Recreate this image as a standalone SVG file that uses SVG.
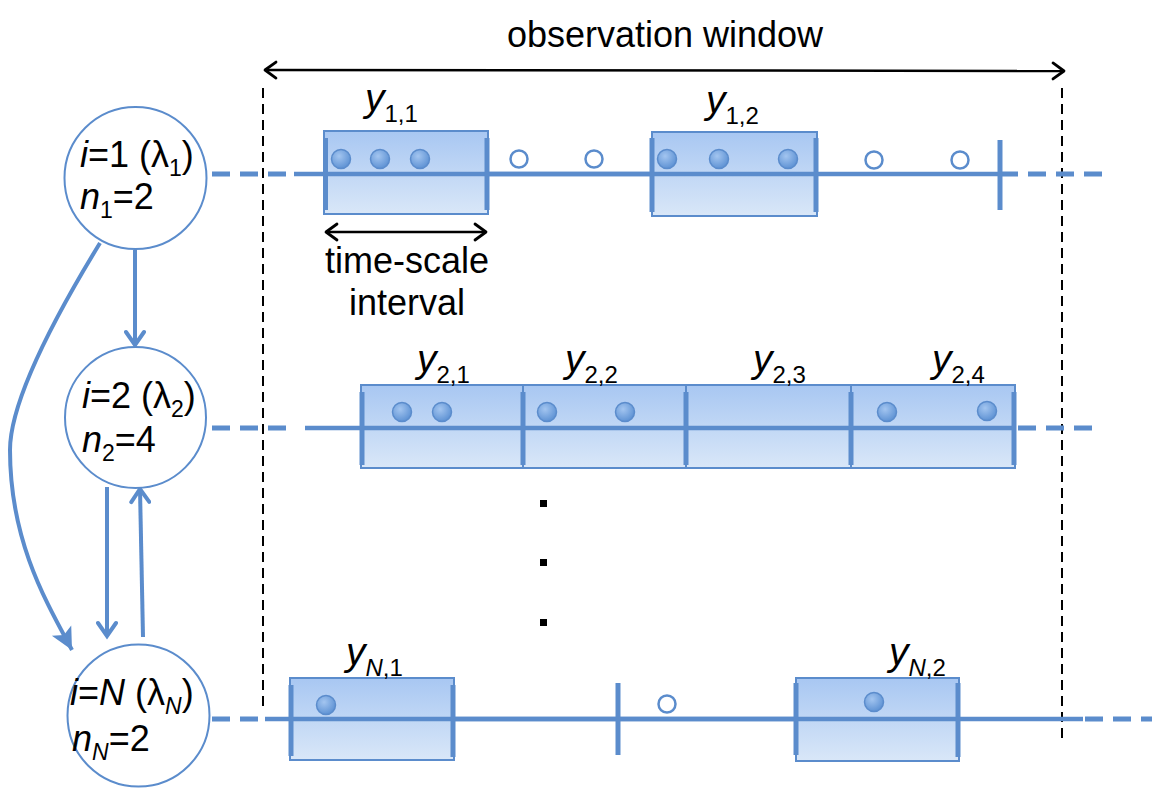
<svg xmlns="http://www.w3.org/2000/svg" width="1159" height="788" viewBox="0 0 1159 788">
<defs>
<style>
text{font-family:"Liberation Sans",Arial,Helvetica,sans-serif;fill:#000}
.lbl{font-size:36px}
.ylbl{font-size:39px}
.sub{font-size:23px}
.ys{font-size:24px}
.it{font-style:italic}
.node{fill:#fff;stroke:#5b8ccc;stroke-width:2}
.row{stroke:#5b8ccc;stroke-width:4.5;fill:none}
.dash{stroke:#5b8ccc;stroke-width:5;fill:none;stroke-dasharray:18 10}
.box{fill:url(#boxg);stroke:#5b8ccc;stroke-width:2}
.bar{stroke:#5b8ccc;stroke-width:5;fill:none}
.dot{fill:url(#dotg);stroke:#5b8ccc;stroke-width:1.5}
.open{fill:#fff;stroke:#5b8ccc;stroke-width:2.5}
.obs{stroke:#000;stroke-width:2;stroke-dasharray:10 6;fill:none}
.barrow{stroke:#000;stroke-width:2.5;fill:none}
.conn{stroke:#5b8ccc;stroke-width:4;fill:none}
</style>
<linearGradient id="boxg" x1="0" y1="0" x2="0" y2="1">
<stop offset="0" stop-color="#a8c7f2"/>
<stop offset="1" stop-color="#d9e7f8"/>
</linearGradient>
<radialGradient id="dotg" cx="0.4" cy="0.35" r="0.7">
<stop offset="0" stop-color="#a3c5f0"/>
<stop offset="1" stop-color="#5a8fd2"/>
</radialGradient>
<marker id="bhead" markerUnits="userSpaceOnUse" viewBox="0 0 20 20" markerWidth="20" markerHeight="20" refX="17" refY="10" orient="auto-start-reverse">
<path d="M6,2 L17,10 L6,18" fill="none" stroke="#000" stroke-width="2.8" stroke-linecap="round" stroke-linejoin="round"/>
</marker>
<marker id="chev" markerUnits="userSpaceOnUse" viewBox="0 0 22 22" markerWidth="22" markerHeight="22" refX="18" refY="11" orient="auto">
<path d="M5,2 L18,11 L5,20" fill="none" stroke="#5b8ccc" stroke-width="4" stroke-linecap="round" stroke-linejoin="miter"/>
</marker>
<marker id="tri" markerUnits="userSpaceOnUse" viewBox="0 0 28 28" markerWidth="28" markerHeight="28" refX="24" refY="14" orient="auto">
<path d="M2,3 L24,14 L2,25 L7,14 Z" fill="#5b8ccc"/>
</marker>
</defs>
<rect width="1159" height="788" fill="#fff"/>

<g id="observation-window">
<text class="lbl" x="665" y="47" text-anchor="middle" font-size="37">observation window</text>
<line class="barrow" x1="265" y1="70" x2="1064" y2="71" marker-start="url(#bhead)" marker-end="url(#bhead)"/>
<line class="obs" x1="263" y1="88" x2="263" y2="708"/>
<line class="obs" x1="1062" y1="88" x2="1062" y2="738"/>
</g>

<g id="row1">
<line class="dash" x1="212" y1="174" x2="290" y2="174"/>
<line class="row" x1="294" y1="174" x2="1000" y2="174"/>
<line class="dash" x1="1000" y1="174" x2="1104" y2="174" stroke-dasharray="17 11"/>
<line class="bar" x1="1000" y1="140" x2="1000" y2="210"/>
<rect class="box" x="324" y="131" width="164" height="83"/>
<rect class="box" x="652" y="132" width="165" height="84"/>
<line class="row" x1="324" y1="174" x2="817" y2="174" stroke-width="4"/>
<line class="bar" x1="325.5" y1="138" x2="325.5" y2="210"/>
<line class="bar" x1="487" y1="138" x2="487" y2="210"/>
<line class="bar" x1="652" y1="138" x2="652" y2="212"/>
<line class="bar" x1="816" y1="138" x2="816" y2="212"/>
<circle class="dot" cx="341" cy="159" r="9.5"/>
<circle class="dot" cx="380" cy="159" r="9.5"/>
<circle class="dot" cx="420" cy="159" r="9.5"/>
<circle class="open" cx="519" cy="159" r="8.5"/>
<circle class="open" cx="594" cy="159" r="8.5"/>
<circle class="dot" cx="667" cy="159" r="9.5"/>
<circle class="dot" cx="719" cy="159" r="9.5"/>
<circle class="dot" cx="788" cy="159" r="9.5"/>
<circle class="open" cx="874" cy="160" r="8.5"/>
<circle class="open" cx="960" cy="160" r="8.5"/>
<text class="ylbl" x="365" y="111"><tspan class="it">y</tspan><tspan class="ys" dy="11">1,1</tspan></text>
<text class="ylbl" x="706" y="113"><tspan class="it">y</tspan><tspan class="ys" dy="11">1,2</tspan></text>
<line class="barrow" x1="326" y1="232" x2="486" y2="232" marker-start="url(#bhead)" marker-end="url(#bhead)"/>
<text class="lbl" x="407" y="273" text-anchor="middle" font-size="37">time-scale</text>
<text class="lbl" x="407" y="315" text-anchor="middle" font-size="37">interval</text>
</g>

<g id="row2">
<line class="dash" x1="212" y1="428" x2="290" y2="428"/>
<line class="row" x1="305" y1="428" x2="1016" y2="428"/>
<line class="dash" x1="1018" y1="428" x2="1100" y2="428" stroke-dasharray="18 12"/>
<rect class="box" x="361" y="385" width="162" height="83"/>
<rect class="box" x="523" y="385" width="163" height="83"/>
<rect class="box" x="686" y="385" width="165" height="83"/>
<rect class="box" x="851" y="385" width="164" height="83"/>
<line class="row" x1="361" y1="428" x2="1015" y2="428" stroke-width="4"/>
<line class="bar" x1="362" y1="392" x2="362" y2="465"/>
<line class="bar" x1="523" y1="392" x2="523" y2="465"/>
<line class="bar" x1="686" y1="392" x2="686" y2="465"/>
<line class="bar" x1="851" y1="392" x2="851" y2="465"/>
<line class="bar" x1="1014" y1="392" x2="1014" y2="465"/>
<circle class="dot" cx="402" cy="412" r="9.5"/>
<circle class="dot" cx="442" cy="412" r="9.5"/>
<circle class="dot" cx="547" cy="412" r="9.5"/>
<circle class="dot" cx="625" cy="412" r="9.5"/>
<circle class="dot" cx="887" cy="412" r="9.5"/>
<circle class="dot" cx="987" cy="411" r="9.5"/>
<text class="ylbl" x="417" y="372"><tspan class="it">y</tspan><tspan class="ys" dy="11">2,1</tspan></text>
<text class="ylbl" x="565" y="372"><tspan class="it">y</tspan><tspan class="ys" dy="11">2,2</tspan></text>
<text class="ylbl" x="753" y="372"><tspan class="it">y</tspan><tspan class="ys" dy="11">2,3</tspan></text>
<text class="ylbl" x="932" y="372"><tspan class="it">y</tspan><tspan class="ys" dy="11">2,4</tspan></text>
</g>

<g id="ellipsis" fill="#000">
<rect x="540" y="500" width="7" height="7"/>
<rect x="540" y="559" width="7" height="7"/>
<rect x="540" y="619" width="7" height="7"/>
</g>

<g id="rowN">
<line class="dash" x1="212" y1="719" x2="262" y2="719"/>
<line class="row" x1="265" y1="719" x2="1083" y2="719"/>
<line class="dash" x1="1085" y1="719" x2="1152" y2="719" stroke-dasharray="16 13"/>
<line class="bar" x1="618" y1="683" x2="618" y2="755"/>
<rect class="box" x="290" y="678" width="164" height="82"/>
<rect class="box" x="796" y="678" width="163" height="83"/>
<line class="row" x1="290" y1="719" x2="959" y2="719" stroke-width="4"/>
<line class="bar" x1="291" y1="685" x2="291" y2="756"/>
<line class="bar" x1="453" y1="685" x2="453" y2="757"/>
<line class="bar" x1="796" y1="683" x2="796" y2="755"/>
<line class="bar" x1="958" y1="683" x2="958" y2="757"/>
<circle class="dot" cx="326" cy="705" r="9.5"/>
<circle class="open" cx="667" cy="704" r="8.5"/>
<circle class="dot" cx="874" cy="702" r="9.5"/>
<text class="ylbl" x="346" y="665"><tspan class="it">y</tspan><tspan class="ys it" dy="11">N</tspan><tspan class="ys">,1</tspan></text>
<text class="ylbl" x="889" y="665"><tspan class="it">y</tspan><tspan class="ys it" dy="11">N</tspan><tspan class="ys">,2</tspan></text>
</g>

<g id="connectors">
<line class="conn" x1="135" y1="250" x2="135" y2="345" marker-end="url(#chev)"/>
<line class="conn" x1="107" y1="487" x2="107" y2="636" marker-end="url(#chev)"/>
<line class="conn" x1="143" y1="637" x2="140" y2="489" marker-end="url(#chev)"/>
<path class="conn" d="M100,243 Q10,390 10,450 C10,540 45,600 72,650" marker-end="url(#tri)"/>
</g>

<g id="node1">
<circle class="node" cx="135.5" cy="178" r="71"/>
<text class="lbl" x="80" y="167"><tspan class="it">i</tspan>=1 (λ<tspan class="sub" dy="9">1</tspan><tspan dy="-9">)</tspan></text>
<text class="lbl" x="80" y="209"><tspan class="it">n</tspan><tspan class="sub" dy="9">1</tspan><tspan dy="-9">=2</tspan></text>
</g>
<g id="node2">
<circle class="node" cx="135.5" cy="417.5" r="70.5"/>
<text class="lbl" x="82" y="408"><tspan class="it">i</tspan>=2 (λ<tspan class="sub" dy="9">2</tspan><tspan dy="-9">)</tspan></text>
<text class="lbl" x="82" y="452"><tspan class="it">n</tspan><tspan class="sub" dy="9">2</tspan><tspan dy="-9">=4</tspan></text>
</g>
<g id="nodeN">
<circle class="node" cx="138.5" cy="715.5" r="71"/>
<text class="lbl" x="70" y="705"><tspan class="it">i</tspan>=<tspan class="it">N</tspan> (λ<tspan class="sub it" dy="9">N</tspan><tspan dy="-9">)</tspan></text>
<text class="lbl" x="72" y="751"><tspan class="it">n</tspan><tspan class="sub it" dy="9">N</tspan><tspan dy="-9">=2</tspan></text>
</g>
</svg>
